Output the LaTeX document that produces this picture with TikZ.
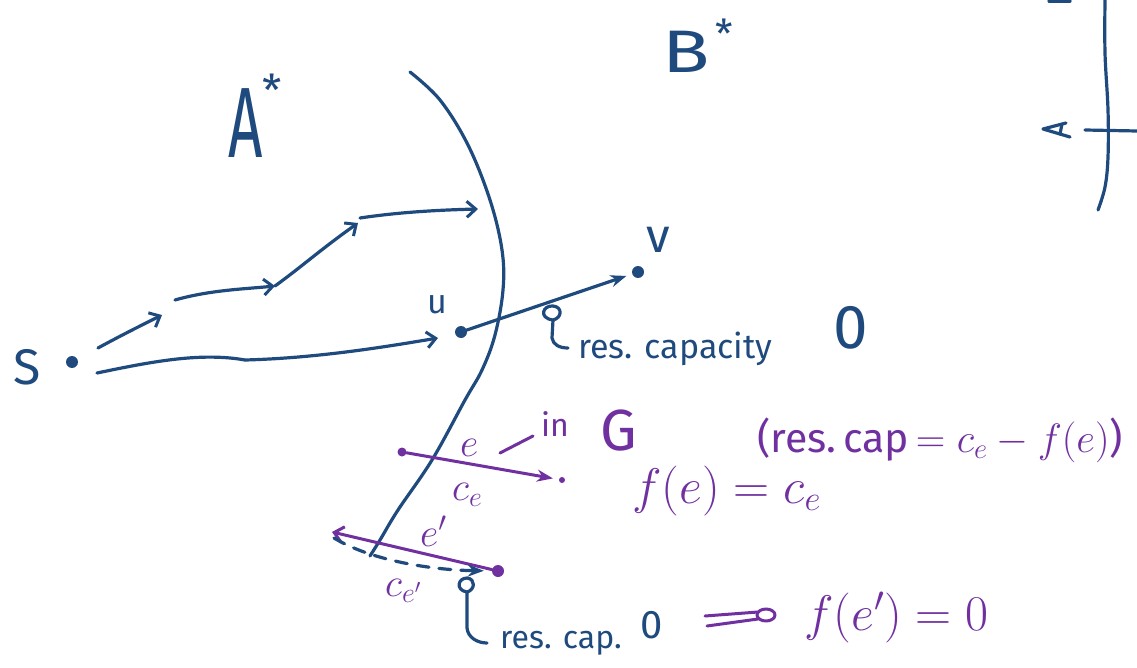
\RequirePackage{fix-cm}
\documentclass[tikz,border=0pt]{standalone}
\usepackage{fontspec}
\setmainfont{Fira Sans}
\usetikzlibrary{arrows.meta}
\definecolor{ink}{RGB}{31,74,126}
\definecolor{purp}{RGB}{112,48,160}
\newcommand{\fs}[1]{\fontsize{#1}{#1}\selectfont}
\begin{document}
\begin{tikzpicture}[x=1pt,y=-1pt,
  bl/.style={draw=ink,line width=3.2pt,line cap=round,line join=round},
  pu/.style={draw=purp,line width=3pt,line cap=round,line join=round},
  dotb/.style={circle,fill=ink,inner sep=0pt,minimum size=12pt},
  dotp/.style={circle,fill=purp,inner sep=0pt,minimum size=#1},
  barb/.style={-{Straight Barb[length=9pt,width=16pt,line width=3pt]}},
  heavy/.style={-{Stealth[length=16pt,width=12pt]}},
  lb/.style={inner sep=0pt,anchor=base west,text=ink},
  lp/.style={inner sep=0pt,anchor=base west,text=purp},
]
\useasboundingbox (0,0) rectangle (1137,668);

% the cut
\draw[bl] plot[smooth,tension=0.6] coordinates {(410,72) (440,100) (468,145) (490,200) (502,250) (503,290) (495,335) (482,370) (465,400) (432,460) (398,510) (380,540) (370,556)};

% top-right fragment
\draw[bl] plot[smooth,tension=0.6] coordinates {(1105,0) (1105,53) (1108,110) (1108,157) (1105,187) (1098,210)};
\draw[bl] (1085,130) -- (1137,131);
\draw[bl] (1066,123) -- (1043,129) -- (1070,137);
\draw[bl] (1062,124) -- (1060,134);
\draw[bl] (1049,1) -- (1070,1);

% labels A*, B*
\node[lb] (A) at (228,158) {\fs{100}\scalebox{0.6}[1]{A}\raisebox{51pt}{\fs{44}*}};
\node[lb] (B) at (662,73) {\fs{60}\scalebox{1.3}[1]{B}\hspace{6pt}\raisebox{24pt}{\fs{40}*}};

% vertices
\node[dotb] (s) at (72,362) {};
\node[lb] (slab) at (13,384) {\fs{50}S};
\node[dotb] (u) at (461,332) {};
\node[lb] (ulab) at (427,313) {\fs{34}u};
\node[dotb] (v) at (638,272) {};
\node[lb] (vlab) at (646,253) {\fs{48}v};

% upper path from s
\coordinate (p1s) at (98,348);
\coordinate (p1e) at (162,315);
\coordinate (p2s) at (175,300);
\coordinate (p2e) at (275,286);
\coordinate (p3e) at (358,223);
\coordinate (p4s) at (360,218);
\coordinate (p4e) at (478,209);
\draw[bl,barb] (p1s) .. controls (120,336) and (140,326) .. (p1e);
\draw[bl,barb] (p2s) .. controls (210,290) and (245,289) .. (p2e);
\draw[bl,barb] (p2e) .. controls (300,268) and (320,250) .. (p3e);
\draw[bl,barb] (p4s) .. controls (400,212) and (440,210) .. (p4e);

% lower path from s
\coordinate (l0) at (97,373);
\coordinate (l1) at (245,360);
\coordinate (l2) at (438,338);
\draw[bl] (l0) .. controls (150,362) and (200,352) .. (l1);
\draw[bl,barb] (l1) .. controls (320,358) and (390,346) .. (l2);

% edge u -> v
\draw[bl,heavy,shorten >=6pt] (u) -- (v);

% pointer: res. capacity 0
\coordinate (q0) at (553,320);
\coordinate (q1) at (568,348);
\draw[bl] (q0) .. controls (538,318) and (543,305) .. (553,306) .. controls (563,307) and (562,318) .. (q0) -- (552,338) .. controls (553,345) and (560,348) .. (q1);
\node[lb] (rescap) at (578,358) {\fs{34}res. capacity};
\node[lb] (zero1) at (833,348) {\fs{62}0};

% purple edge e
\node[dotp=9pt] (e1) at (402,452) {};
\node[dotp=6pt] (e2) at (562,480) {};
\draw[pu,heavy,shorten >=6pt] (e1) -- (e2);
\node[lp] (elab) at (460,456) {\fs{40}$e$};
\coordinate (d1) at (500,453);
\coordinate (d2) at (533,436);
\draw[pu] (d1) -- (d2);
\node[lp] (inlab) at (541,436) {\fs{32}in};
\node[lp] (Glab) at (600,450) {\fs{58}G};
\node[lp] (celab) at (452,500) {\fs{40}$c_e$};

% purple edge e'
\node[dotp=12pt] (f1) at (498,571) {};
\coordinate (f2) at (332,532);
\draw[pu,barb] (f1) -- (f2);
\node[lp] (eplab) at (420,546) {\fs{40}$e'$};
\node[lp] (ceplab) at (385,596) {\fs{40}$c_{e'}$};

% residual (dashed) edge
\coordinate (r0) at (334,538);
\draw[bl,dash pattern=on 12pt off 10pt,heavy,shorten >=8pt] (r0) .. controls (370,560) and (430,570) .. (f1);

% pointer: res. cap. 0
\coordinate (t0) at (467,592);
\coordinate (t1) at (487,643);
\draw[bl] (t0) .. controls (455,590) and (458,578) .. (467,578) .. controls (476,579) and (475,590) .. (t0) -- (467,628) .. controls (468,638) and (478,643) .. (t1);
\node[lb] (rescap2) at (500,648) {\fs{32}res. cap.};
\node[lb] (zero2) at (640,638) {\fs{40}0};

% implies arrow
\coordinate (i1) at (705,616);
\coordinate (i2) at (707,626);
\coordinate (i3) at (758,612);
\coordinate (i4) at (758,619);
\draw[pu] (i1) -- (i3);
\draw[pu] (i2) -- (i4);
\draw[pu] (766,615) ellipse [x radius=9pt, y radius=6pt];

% purple statements
\node[lp] (fe) at (632,503) {\fs{50}$f(e)=c_e$};
\node[lp] (fep) at (804,630) {\fs{50}$f(e')=0$};
\node[lp] (rc) at (757,452) {\fs{41}(res.\,cap$\,=c_e-f(e)$)};
\end{tikzpicture}
\end{document}
